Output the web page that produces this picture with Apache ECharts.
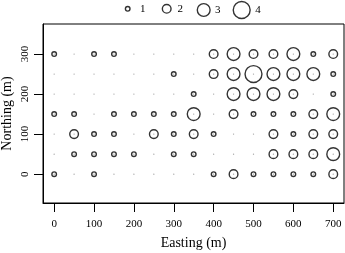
<!DOCTYPE html>
<html>
<head>
<meta charset="utf-8">
<script src="https://cdn.jsdelivr.net/npm/echarts@6/dist/echarts.min.js"></script>
<style>html,body{margin:0;padding:0;background:#fff;}#c{width:345px;height:253px;}</style>
</head>
<body>
<div id="c"></div>
<script>
// Grid coordinates
const eastings = [0, 50, 100, 150, 200, 250, 300, 350, 400, 450, 500, 550, 600, 650, 700];
const northings = [300, 250, 200, 150, 100, 50, 0];
// Size class at each location, one row per northing (top to bottom)
const row300 = [1, 0, 1, 1, 0, 0, 0, 0, 2, 3, 2, 2, 3, 1, 2];
const row250 = [0, 0, 0, 0, 0, 0, 1, 0, 2, 3, 4, 3, 3, 3, 1];
const row200 = [0, 0, 0, 0, 0, 0, 0, 1, 0, 3, 3, 3, 2, 0, 1];
const row150 = [1, 1, 0, 1, 1, 1, 1, 3, 0, 2, 1, 1, 1, 2, 3];
const row100 = [0, 2, 1, 1, 0, 2, 1, 2, 1, 0, 0, 2, 1, 2, 2];
const row50  = [0, 1, 1, 1, 1, 0, 1, 1, 0, 0, 0, 2, 2, 2, 3];
const row0   = [1, 0, 1, 0, 0, 0, 0, 0, 1, 2, 1, 1, 1, 1, 2];
const sizeRows = [row300, row250, row200, row150, row100, row50, row0];
const legendClasses = [1, 2, 3, 4];
const xTicks = [0, 100, 200, 300, 400, 500, 600, 700];
const yTicks = [0, 100, 200, 300];

const FONT = 'Liberation Serif';
const diam = k => 4.1 * k + 0.5;

const points = [];
sizeRows.forEach((row, i) => row.forEach((v, j) => points.push([eastings[j], northings[i], v])));

const circleStyle = { color: 'rgba(0,0,0,0)', borderColor: '#000', borderWidth: 1.4 };
const series = legendClasses.map(k => ({
  name: String(k),
  type: 'scatter',
  symbol: 'circle',
  symbolSize: diam(k),
  itemStyle: circleStyle,
  data: points.filter(p => p[2] === k),
  silent: true,
  z: 2
}));
series.push({
  name: 'dots',
  type: 'scatter',
  symbol: 'circle',
  symbolSize: 1.3,
  itemStyle: { color: '#888' },
  data: points.map(p => [p[0], p[1]]),
  silent: true,
  z: 3
});

const legendCx = [127, 166, 203, 241];
const legendPad = [5, 1.5, 0, 0];
const legends = legendClasses.map((k, i) => {
  const d = diam(k);
  return {
    data: [String(k)],
    left: legendCx[i] - d / 2,
    top: 9.3 - Math.max(d, 12) / 2,
    padding: 0,
    itemWidth: d,
    itemHeight: d,
    icon: 'circle',
    selectedMode: false,
    itemStyle: circleStyle,
    textStyle: { fontFamily: FONT, fontSize: 11, color: '#000', padding: [0, 0, 0, legendPad[i]] }
  };
});

const chart = echarts.init(document.getElementById('c'), null, { renderer: 'canvas' });
chart.setOption({
  animation: false,
  backgroundColor: '#fff',
  legend: legends,
  grid: { left: 43, right: 1, top: 24, bottom: 50, outerBoundsMode: 'none', containLabel: false, show: true, borderColor: '#000', borderWidth: 1, backgroundColor: 'transparent' },
  xAxis: {
    type: 'value', min: -28, max: 727,
    name: 'Easting (m)', nameLocation: 'middle', nameGap: 33, nameMoveOverlap: false,
    nameTextStyle: { fontFamily: FONT, fontSize: 14, color: '#000' },
    axisLine: { show: true, onZero: false, lineStyle: { color: '#000', width: 1 } },
    axisTick: { show: true, length: 9, customValues: xTicks, lineStyle: { color: '#000', width: 1 } },
    axisLabel: { customValues: xTicks, margin: 16, fontFamily: FONT, fontSize: 11, color: '#000' },
    splitLine: { show: false }
  },
  yAxis: {
    type: 'value', min: -72, max: 375,
    name: 'Northing (m)', nameLocation: 'middle', nameGap: 29, nameRotate: 90, nameMoveOverlap: false,
    nameTextStyle: { fontFamily: FONT, fontSize: 14, color: '#000' },
    axisLine: { show: true, onZero: false, lineStyle: { color: '#000', width: 1 } },
    axisTick: { show: true, length: 9, customValues: yTicks, lineStyle: { color: '#000', width: 1 } },
    axisLabel: { customValues: yTicks, margin: 12, rotate: 90, fontFamily: FONT, fontSize: 11, color: '#000' },
    splitLine: { show: false }
  },
  series: series
});
</script>
</body>
</html>
